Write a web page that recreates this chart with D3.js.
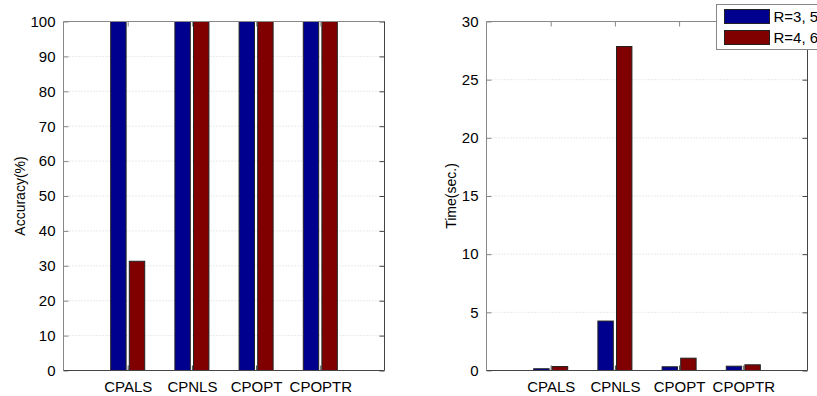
<!DOCTYPE html>
<html>
<head>
<meta charset="utf-8">
<script src="https://cdn.jsdelivr.net/npm/d3@7"></script>
<style>
  body { margin: 0; background: #fff; }
  svg { display: block; font-family: "Liberation Sans", Arial, sans-serif; }
</style>
</head>
<body>
<div id="chart"></div>
<script>
// data
var methods = ["CPALS", "CPNLS", "CPOPT", "CPOPTR"];
var seriesNames = ["R=3, 5, 7", "R=4, 6, 8"];
var accuracyR3 = [100, 100, 100, 100];
var accuracyR4 = [31.3, 100, 100, 100];
var timeR3 = [0.15, 4.25, 0.32, 0.37];
var timeR4 = [0.34, 27.85, 1.06, 0.49];
var accuracyTicks = [0, 10, 20, 30, 40, 50, 60, 70, 80, 90, 100];
var timeTicks = [0, 5, 10, 15, 20, 25, 30];
var colors = ["#00008f", "#800000"];

var W = 817, H = 396;
var fontSize = "15px";
var svg = d3.select("#chart").append("svg")
  .attr("width", W)
  .attr("height", H);

function drawPanel(opt) {
  var g = svg.append("g");
  var x = d3.scaleLinear().domain([0, methods.length + 1]).range([opt.left, opt.right]);
  var y = d3.scaleLinear().domain(opt.domain).range([opt.bottom, opt.top]);

  // dotted grid
  g.selectAll(".grid").data(opt.ticks.slice(1, -1)).enter()
    .append("line")
    .attr("x1", opt.left).attr("x2", opt.right)
    .attr("y1", d => y(d)).attr("y2", d => y(d))
    .style("stroke", "#d4d4d4")
    .style("stroke-dasharray", "1,2");

  // bars
  var bw = 0.24, off = 0.145;
  [opt.s1, opt.s2].forEach(function(vals, si) {
    g.selectAll(".bar" + si).data(vals).enter()
      .append("rect")
      .attr("x", (d, i) => x(i + 1 + (si == 0 ? -off : off) - bw / 2))
      .attr("width", x(bw) - x(0))
      .attr("y", d => y(d))
      .attr("height", d => y(0) - y(d))
      .style("fill", colors[si])
      .style("stroke", "#222")
      .style("stroke-width", 1);
  });

  // axes (box with inward ticks)
  var yl = d3.axisLeft(y).tickValues(opt.ticks).tickSize(-5).tickPadding(8);
  var yr = d3.axisRight(y).tickValues(opt.ticks).tickSize(-5).tickFormat("");
  var xb = d3.axisBottom(x).tickValues(d3.range(1, methods.length + 1))
    .tickSize(-5).tickPadding(11).tickFormat(d => methods[d - 1]);
  var xt = d3.axisTop(x).tickValues(d3.range(1, methods.length + 1)).tickSize(-5).tickFormat("");

  var axes = [
    [yl, "translate(" + opt.left + ",0)", "#888"],
    [yr, "translate(" + opt.right + ",0)", "#444"],
    [xb, "translate(0," + opt.bottom + ")", "#444"],
    [xt, "translate(0," + opt.top + ")", "#888"]
  ];
  axes.forEach(function(a) {
    var ag = g.append("g").attr("transform", a[1]).call(a[0]);
    ag.selectAll(".tick line").style("stroke", a[2]);
    ag.selectAll("text").style("font-size", fontSize).style("fill", "#000")
      .style("font-family", "'Liberation Sans', Arial, sans-serif");
  });
  // straight box lines, no outer ticks
  g.selectAll(".domain").remove();
  g.append("line").attr("x1", opt.left).attr("x2", opt.right).attr("y1", opt.top).attr("y2", opt.top).style("stroke", "#888");
  g.append("line").attr("x1", opt.left).attr("x2", opt.left).attr("y1", opt.top).attr("y2", opt.bottom).style("stroke", "#888");
  g.append("line").attr("x1", opt.right).attr("x2", opt.right).attr("y1", opt.top).attr("y2", opt.bottom).style("stroke", "#444");
  g.append("line").attr("x1", opt.left).attr("x2", opt.right).attr("y1", opt.bottom).attr("y2", opt.bottom).style("stroke", "#444");

  // y-axis title
  svg.append("text")
    .attr("transform", "translate(" + opt.labelX + "," + ((opt.top + opt.bottom) / 2) + ") rotate(-90)")
    .attr("text-anchor", "middle")
    .style("font-size", "14px")
    .text(opt.label);
}

drawPanel({ left: 63.5, right: 384.5, top: 21.5, bottom: 370.5, domain: [0, 100],
  ticks: accuracyTicks, s1: accuracyR3, s2: accuracyR4, label: "Accuracy(%)", labelX: 25 });
drawPanel({ left: 486.5, right: 807.5, top: 21.5, bottom: 370.5, domain: [0, 30],
  ticks: timeTicks, s1: timeR3, s2: timeR4, label: "Time(sec.)", labelX: 456 });

// legend (runs off the right edge as in the reference)
var legend = svg.append("g").attr("transform", "translate(716.5,4.5)");
legend.append("rect")
  .attr("width", 140).attr("height", 45)
  .style("fill", "#fff").style("stroke", "#888");
seriesNames.forEach(function(name, i) {
  legend.append("rect")
    .attr("x", 8).attr("y", 5 + i * 21)
    .attr("width", 45).attr("height", 14)
    .style("fill", colors[i]).style("stroke", "#222");
  legend.append("text")
    .attr("x", 57).attr("y", 12 + i * 21)
    .attr("dy", "0.35em")
    .style("font-size", fontSize)
    .text(name);
});
</script>
</body>
</html>
